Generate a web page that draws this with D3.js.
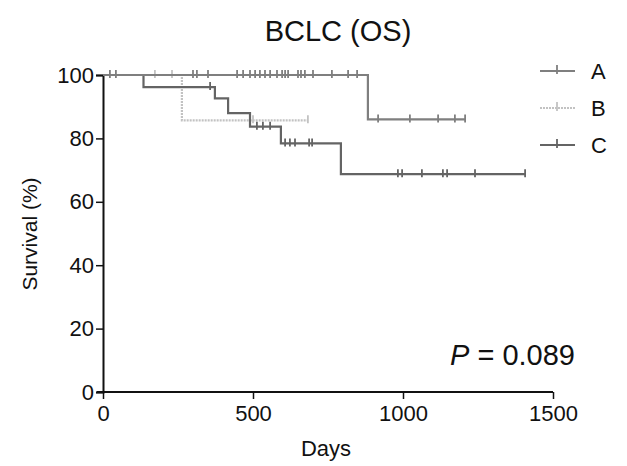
<!doctype html>
<html>
<head>
<meta charset="utf-8">
<script src="https://d3js.org/d3.v7.min.js"></script>
<style>
  body { margin: 0; background: #fff; }
  text { font-family: "Liberation Sans", Arial, sans-serif; fill: #111; }
</style>
</head>
<body>
<div id="chart"></div>
<script>
// survival curves (days, %)
var groups = ["A", "B", "C"];

var aTimes = [0, 883, 1207];
var aSurv = [100, 86, 86];
var aCensor = [23, 43, 300, 313, 350, 447, 467, 490, 507, 523, 540, 557, 580, 597, 607, 617,
               650, 660, 673, 700, 763, 817, 847, 917, 1023, 1117, 1173, 1207];

var bTimes = [0, 263, 683];
var bSurv = [100, 85.7, 85.7];
var bCensor = [173, 230, 500, 683];

var cTimes = [0, 135, 373, 417, 490, 593, 793, 1407];
var cSurv = [100, 96.2, 92.6, 88.0, 83.7, 78.4, 68.7, 68.7];
var cCensor = [357, 513, 533, 557, 607, 623, 640, 687, 697, 983, 997, 1063, 1133, 1147, 1240, 1407];

var xTicks = [0, 500, 1000, 1500];
var yTicks = [0, 20, 40, 60, 80, 100];

var colors = {A: "#7f7f7f", B: "#c2c2c2", C: "#646464"};

var W = 627, H = 466;
var svg = d3.select("#chart").append("svg").attr("width", W).attr("height", H);

var x = d3.scaleLinear().domain([0, 1500]).range([103, 553]);
var y = d3.scaleLinear().domain([0, 100]).range([392, 75]);

// title
svg.append("text").attr("x", 338).attr("y", 41).attr("text-anchor", "middle")
  .style("font-size", "29px").text("BCLC (OS)");

// axes
var xAxis = svg.append("g").attr("transform", "translate(0,392)")
  .call(d3.axisBottom(x).tickValues(xTicks).tickSize(7).tickPadding(6).tickFormat(d3.format("d")));
var yAxis = svg.append("g").attr("transform", "translate(103,0)")
  .call(d3.axisLeft(y).tickValues(yTicks).tickSize(7).tickPadding(2));
[xAxis, yAxis].forEach(function(g) {
  g.select(".domain").attr("stroke", "#111").attr("stroke-width", 2);
  g.selectAll(".tick line").attr("stroke", "#111").attr("stroke-width", 1.5);
  g.selectAll(".tick text").style("font-size", "22px").attr("fill", "#111")
    .style("font-family", "Liberation Sans, Arial, sans-serif");
});
xAxis.select(".domain").attr("d", "M97,0H" + x(1500));

svg.append("text").attr("x", 326).attr("y", 456).attr("text-anchor", "middle")
  .style("font-size", "22px").text("Days");
svg.append("text").attr("transform", "translate(37,234) rotate(-90)").attr("text-anchor", "middle")
  .style("font-size", "21px").text("Survival (%)");

// P value
var p = svg.append("text").attr("x", 575).attr("y", 365).attr("text-anchor", "end")
  .style("font-size", "29px");
p.append("tspan").style("font-style", "italic").text("P");
p.append("tspan").text(" = 0.089");

function survAt(times, surv, t) {
  var v = surv[0];
  for (var i = 0; i < times.length; i++) if (times[i] <= t) v = surv[i];
  return v;
}

var line = d3.line().curve(d3.curveStepAfter)
  .x(function(d) { return x(d[0]); }).y(function(d) { return y(d[1]); });

var curves = [
  {g: "B", times: bTimes, surv: bSurv, cens: bCensor, dash: "2,1"},
  {g: "C", times: cTimes, surv: cSurv, cens: cCensor, dash: null},
  {g: "A", times: aTimes, surv: aSurv, cens: aCensor, dash: null}
];

curves.forEach(function(c) {
  var pts = c.times.map(function(t, i) { return [t, c.surv[i]]; });
  svg.append("path").datum(pts).attr("d", line).attr("fill", "none")
    .attr("stroke", colors[c.g]).attr("stroke-width", 2.2)
    .attr("stroke-dasharray", c.dash);
  svg.selectAll(null).data(c.cens).enter().append("line")
    .attr("x1", function(d) { return x(d); }).attr("x2", function(d) { return x(d); })
    .attr("y1", function(d) { return y(survAt(c.times, c.surv, d)) - 5; })
    .attr("y2", function(d) { return y(survAt(c.times, c.surv, d)) + 3; })
    .attr("stroke", colors[c.g]).attr("stroke-width", 1.8);
});

// legend
var leg = svg.append("g");
groups.forEach(function(g, i) {
  var ly = 71 + i * 37;
  leg.append("line").attr("x1", 540).attr("x2", 575).attr("y1", ly).attr("y2", ly)
    .attr("stroke", colors[g]).attr("stroke-width", 2.2)
    .attr("stroke-dasharray", g === "B" ? "2,1" : null);
  leg.append("line").attr("x1", 557).attr("x2", 557).attr("y1", ly - 6).attr("y2", ly + 3)
    .attr("stroke", colors[g]).attr("stroke-width", 1.8);
  leg.append("text").attr("x", 591).attr("y", ly + 8).style("font-size", "22px").text(g);
});
</script>
</body>
</html>
